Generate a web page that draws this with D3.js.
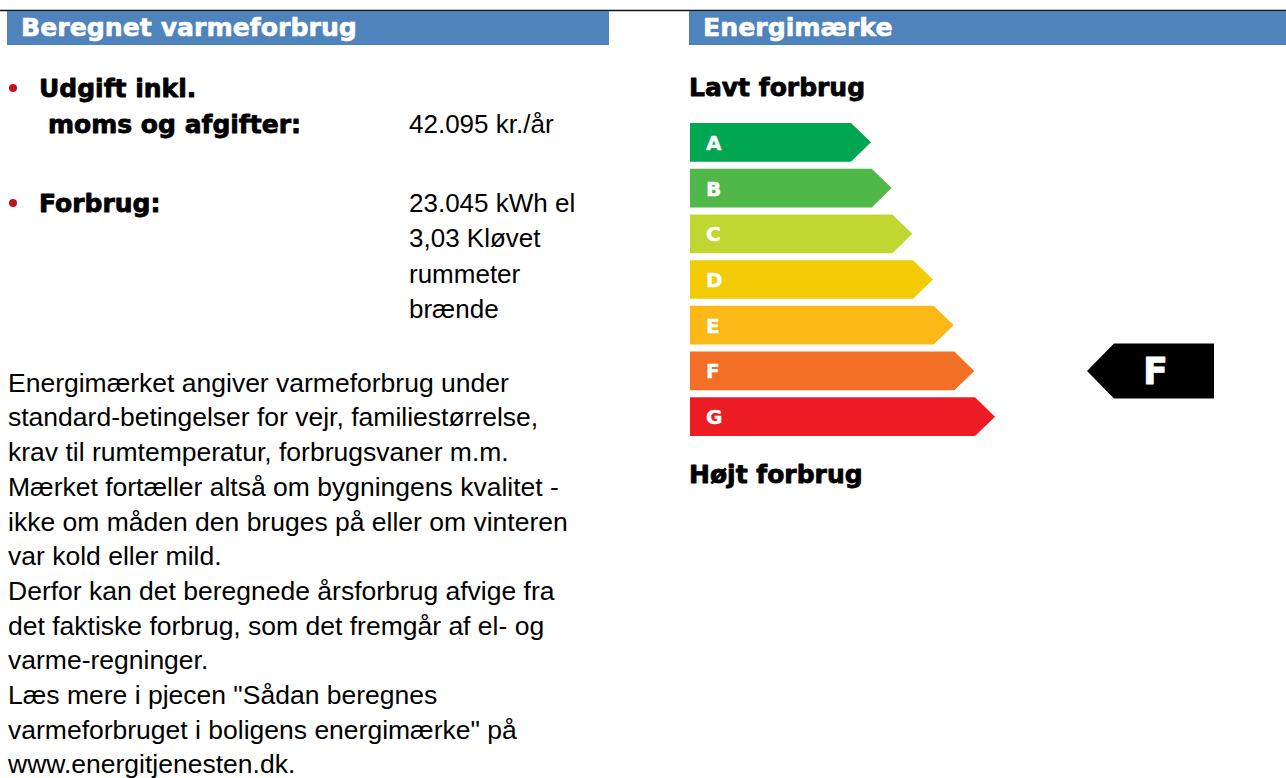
<!DOCTYPE html>
<html>
<head>
  <meta charset="utf-8" />
  <title>Energimærke</title>
  <script src="https://cdn.jsdelivr.net/npm/d3@7"></script>
  <style>
    body { margin: 0; background: #fff; }
    .bold { font-family: "DejaVu Sans", Verdana, sans-serif; font-weight: bold; stroke-linejoin: round; }
    .reg { font-family: "Liberation Sans", Arial, Helvetica, sans-serif; }
  </style>
</head>
<body>
  <svg id="chart"></svg>
  <script>
    // data
    var headers = ["Beregnet varmeforbrug", "Energimærke"];
    var costLabel = ["Udgift inkl.", "moms og afgifter:"];
    var costValue = ["42.095 kr./år"];
    var usageLabel = ["Forbrug:"];
    var usageValue = ["23.045 kWh el", "3,03 Kløvet", "rummeter", "brænde"];
    var infoLines = [
      "Energimærket angiver varmeforbrug under",
      "standard-betingelser for vejr, familiestørrelse,",
      "krav til rumtemperatur, forbrugsvaner m.m.",
      "Mærket fortæller altså om bygningens kvalitet -",
      "ikke om måden den bruges på eller om vinteren",
      "var kold eller mild.",
      "Derfor kan det beregnede årsforbrug afvige fra",
      "det faktiske forbrug, som det fremgår af el- og",
      "varme-regninger.",
      "Læs mere i pjecen \"Sådan beregnes",
      "varmeforbruget i boligens energimærke\" på",
      "www.energitjenesten.dk."
    ];
    var scaleLabels = ["Lavt forbrug", "Højt forbrug"];
    var ratings = ["A", "B", "C", "D", "E", "F", "G"];
    var ratingColors = ["#00a651", "#50b848", "#bfd730", "#f3cb05", "#fbb817", "#f36f25", "#ed1c24"];
    var currentRating = "F";

    var width = 1286, height = 778;
    var svg = d3.select("#chart").attr("width", width).attr("height", height);

    // top rule
    svg.append("line")
      .attr("x1", 0).attr("x2", width)
      .attr("y1", 10.5).attr("y2", 10.5)
      .attr("stroke", "#111").attr("stroke-width", 1.5);

    // section headers
    var headerX = [7, 689], headerW = [602, 597];
    var hdr = svg.selectAll(".hdr").data(headers).enter().append("g").attr("class", "hdr");
    hdr.append("rect")
      .attr("x", (d, i) => headerX[i]).attr("y", 11)
      .attr("width", (d, i) => headerW[i]).attr("height", 34)
      .attr("fill", "#4f83bc");
    hdr.append("text")
      .attr("class", "bold")
      .attr("x", (d, i) => headerX[i] + 14).attr("y", 36)
      .attr("font-size", 25.2).attr("fill", "#fff")
      .attr("stroke", "#fff").attr("stroke-width", 0.6)
      .text(d => d);

    // bullets
    svg.selectAll(".bullet").data([88, 203]).enter().append("circle")
      .attr("cx", 13).attr("cy", d => d).attr("r", 4)
      .attr("fill", "#c1121f");

    // left labels
    svg.selectAll(".costLabel").data(costLabel).enter().append("text")
      .attr("class", "bold")
      .attr("x", (d, i) => i == 0 ? 39 : 48)
      .attr("y", (d, i) => 96.7 + i * 36.6)
      .attr("font-size", 25).attr("fill", "#000")
      .attr("stroke", "#000").attr("stroke-width", 0.8)
      .text(d => d);
    svg.selectAll(".usageLabel").data(usageLabel).enter().append("text")
      .attr("class", "bold")
      .attr("x", 39).attr("y", 211.7)
      .attr("font-size", 25).attr("fill", "#000")
      .attr("stroke", "#000").attr("stroke-width", 0.8)
      .text(d => d);

    // values
    svg.selectAll(".costValue").data(costValue).enter().append("text")
      .attr("class", "reg")
      .attr("x", 409).attr("y", 133.3)
      .attr("font-size", 26).attr("fill", "#000")
      .text(d => d);
    svg.selectAll(".usageValue").data(usageValue).enter().append("text")
      .attr("class", "reg")
      .attr("x", 409).attr("y", (d, i) => 211.7 + i * 35.5)
      .attr("font-size", 26).attr("fill", "#000")
      .text(d => d);

    // paragraph
    svg.selectAll(".info").data(infoLines).enter().append("text")
      .attr("class", "reg")
      .attr("x", 8).attr("y", (d, i) => 391.7 + i * 34.7)
      .attr("font-size", 26.5).attr("fill", "#000")
      .text(d => d);

    // energy label scale
    var y = d3.scaleBand().domain(ratings).range([123, 436]).paddingInner(0.153);
    var xEnd = d3.scaleLinear().domain([0, ratings.length - 1]).range([851, 975]);
    var x0 = 690, tip = 20;

    function arrowPath(d, i) {
      var top = y(d), h = y.bandwidth(), e = xEnd(i);
      return "M" + x0 + "," + top + "H" + e + "L" + (e + tip) + "," + (top + h / 2) +
        "L" + e + "," + (top + h) + "H" + x0 + "Z";
    }

    var bars = svg.selectAll(".rating").data(ratings).enter().append("g").attr("class", "rating");
    bars.append("path")
      .attr("d", arrowPath)
      .attr("fill", (d, i) => ratingColors[i]);
    bars.append("text")
      .attr("class", "bold")
      .attr("x", 706).attr("y", d => y(d) + y.bandwidth() / 2 + 7.5)
      .attr("font-size", 20).attr("fill", "#fff")
      .attr("stroke", "#fff").attr("stroke-width", 0.4)
      .text(d => d);

    svg.selectAll(".scaleLabel").data(scaleLabels).enter().append("text")
      .attr("class", "bold")
      .attr("x", 689).attr("y", (d, i) => i == 0 ? 95.5 : 482.5)
      .attr("font-size", 25).attr("fill", "#000")
      .attr("stroke", "#000").attr("stroke-width", 0.8)
      .text(d => d);

    // current rating indicator
    var cy = y(currentRating) + y.bandwidth() / 2;
    var ih = 55, left = 1087, body = 1114, right = 1214;
    var ind = svg.append("g").attr("class", "indicator");
    ind.append("path")
      .attr("d", "M" + left + "," + cy + "L" + body + "," + (cy - ih / 2) + "H" + right +
        "V" + (cy + ih / 2) + "H" + body + "Z")
      .attr("fill", "#000");
    ind.append("text")
      .attr("class", "bold")
      .attr("x", 1143).attr("y", cy + 13.5)
      .attr("font-size", 36.5).attr("fill", "#fff")
      .attr("stroke", "#fff").attr("stroke-width", 0.8)
      .text(currentRating);
  </script>
</body>
</html>
